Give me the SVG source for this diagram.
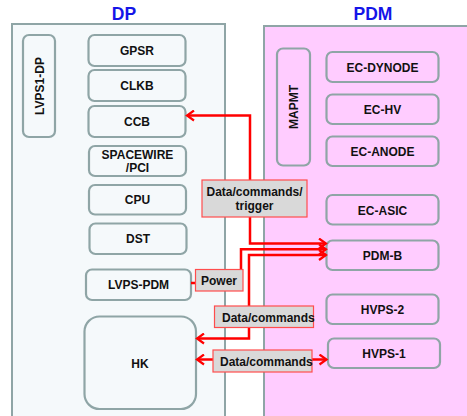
<svg xmlns="http://www.w3.org/2000/svg" width="467" height="416" viewBox="0 0 467 416">
<defs>
<style>
.panel{stroke:#8fa5a6;stroke-width:2}
.node{fill:none;stroke:#8fa5a6;stroke-width:2.2}
.t{font-family:"Liberation Sans",Arial,sans-serif;font-weight:bold;font-size:12px;fill:#111;text-anchor:middle}
.title{font-family:"Liberation Sans",Arial,sans-serif;font-weight:bold;font-size:17.5px;fill:#1515e8;text-anchor:middle}
.wire{fill:none;stroke:#ff0000;stroke-width:2.5;stroke-linejoin:miter}
.lbl{fill:#d9d9d9;stroke:#ff4d4d;stroke-width:1.2}
.lt{font-family:"Liberation Sans",Arial,sans-serif;font-weight:bold;font-size:12px;fill:#111}
</style>
<marker id="arr" markerUnits="userSpaceOnUse" markerWidth="12" markerHeight="12" viewBox="0 0 12 12" refX="9" refY="6" orient="auto-start-reverse">
<path d="M2,1 L9,6 L2,11" fill="none" stroke="#ff0000" stroke-width="2.2"/>
</marker>
</defs>
<rect width="467" height="416" fill="#ffffff"/>
<g id="panel-dp">
<rect class="panel" x="12" y="24" width="213" height="400" fill="#f5f9fb"/>
<text class="title" x="124" y="20">DP</text>
</g>
<g id="panel-pdm">
<rect class="panel" x="264" y="26" width="210" height="400" fill="#ffccff"/>
<text class="title" x="373" y="20">PDM</text>
</g>
<g id="lvps1-dp"><rect class="node" x="23" y="35" width="32" height="102" rx="6"/><text class="t" transform="translate(43.5,86) rotate(-90)">LVPS1-DP</text></g>
<g id="gpsr"><rect class="node" x="88.5" y="35" width="97" height="31" rx="6"/><text class="t" x="137" y="55">GPSR</text></g>
<g id="clkb"><rect class="node" x="88.5" y="70" width="97" height="31" rx="6"/><text class="t" x="137" y="90">CLKB</text></g>
<g id="ccb"><rect class="node" x="88.5" y="106" width="97" height="31" rx="6"/><text class="t" x="137" y="126">CCB</text></g>
<g id="spacewire"><rect class="node" x="89" y="146" width="97" height="30" rx="6"/><text class="t" x="137.5" y="158.5">SPACEWIRE</text><text class="t" x="137.5" y="172">/PCI</text></g>
<g id="cpu"><rect class="node" x="89" y="185" width="97" height="29.5" rx="6"/><text class="t" x="137.5" y="204">CPU</text></g>
<g id="dst"><rect class="node" x="89.5" y="223.5" width="97" height="30.5" rx="6"/><text class="t" x="138" y="243">DST</text></g>
<g id="lvps-pdm"><rect class="node" x="86" y="269.5" width="105" height="30.5" rx="6"/><text class="t" x="138.5" y="289">LVPS-PDM</text></g>
<g id="hk"><rect class="node" x="84.5" y="316.5" width="111.5" height="92.5" rx="15"/><text class="t" x="140" y="368">HK</text></g>
<g id="mapmt"><rect class="node" x="277" y="48.5" width="33" height="117" rx="6"/><text class="t" transform="translate(297.5,107) rotate(-90)">MAPMT</text></g>
<g id="ec-dynode"><rect class="node" x="326.5" y="52" width="112" height="30" rx="6"/><text class="t" x="382.5" y="71.5">EC-DYNODE</text></g>
<g id="ec-hv"><rect class="node" x="326.5" y="94.5" width="112" height="29.5" rx="6"/><text class="t" x="382.5" y="113.5">EC-HV</text></g>
<g id="ec-anode"><rect class="node" x="326.5" y="136.5" width="112" height="29.5" rx="6"/><text class="t" x="382.5" y="155.5">EC-ANODE</text></g>
<g id="ec-asic"><rect class="node" x="326.5" y="195" width="112" height="29.5" rx="6"/><text class="t" x="382.5" y="214.5">EC-ASIC</text></g>
<g id="pdm-b"><rect class="node" x="326.5" y="240.5" width="112" height="29.5" rx="6"/><text class="t" x="382.5" y="260">PDM-B</text></g>
<g id="hvps-2"><rect class="node" x="326.5" y="294.5" width="112" height="29.5" rx="6"/><text class="t" x="382.5" y="314">HVPS-2</text></g>
<g id="hvps-1"><rect class="node" x="328" y="338.5" width="112" height="29.5" rx="6"/><text class="t" x="384" y="358">HVPS-1</text></g>
<g id="connectors">
<path class="wire" d="M187,115.5 H250 V243.5 H326" marker-start="url(#arr)" marker-end="url(#arr)"/>
<path class="wire" d="M191,283 H241 V249.3 H326" marker-end="url(#arr)"/>
<path class="wire" d="M197,338.5 H249 V255 H326" marker-start="url(#arr)" marker-end="url(#arr)"/>
<path class="wire" d="M197,359.5 H326.5" marker-start="url(#arr)" marker-end="url(#arr)"/>
<g id="label-dct"><rect class="lbl" x="202" y="180" width="105" height="37"/><text class="lt" x="254.5" y="196" text-anchor="middle">Data/commands/</text><text class="lt" x="254.5" y="210" text-anchor="middle">trigger</text></g>
<g id="label-power"><rect class="lbl" x="195.5" y="269.5" width="47.5" height="21.5"/><text class="lt" x="201" y="285">Power</text></g>
<g id="label-dc1"><rect class="lbl" x="214.5" y="306" width="99" height="21.5"/><text class="lt" x="222" y="321.5">Data/commands</text></g>
<g id="label-dc2"><rect class="lbl" x="213" y="350" width="99" height="22"/><text class="lt" x="220" y="365.5">Data/commands</text></g>
</g>
</svg>
